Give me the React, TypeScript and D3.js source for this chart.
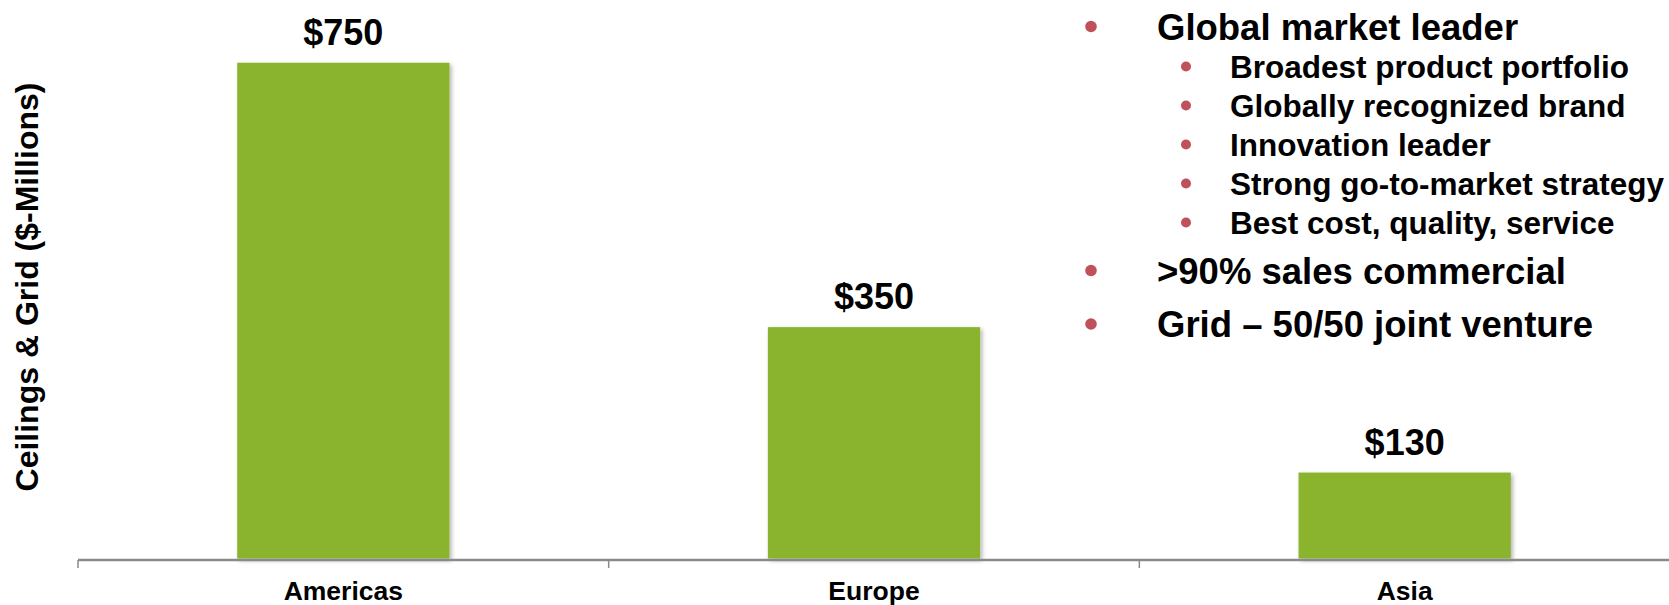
import React from "react";
import * as d3 from "d3";

const categories = ["Americas", "Europe", "Asia"];
const values = [750, 350, 130];
const valueLabels = ["$750", "$350", "$130"];
const yTitle = "Ceilings & Grid ($-Millions)";
const mainBullets = ["Global market leader", ">90% sales commercial", "Grid – 50/50 joint venture"];
const subBullets = [
  "Broadest product portfolio",
  "Globally recognized brand",
  "Innovation leader",
  "Strong go-to-market strategy",
  "Best cost, quality, service",
];

const W = 1669;
const H = 605;
const FONT = "'Liberation Sans', Arial, Helvetica, sans-serif";
const GREEN = "#8BB42D";
const RED = "#C0505A";

export default function App() {
  const x = d3
    .scaleBand<string>()
    .domain(categories)
    .range([78, 1670])
    .paddingInner(0.6)
    .paddingOuter(0.3);
  const y = d3.scaleLinear().domain([0, 800]).range([558.5, 29.7]);
  const axisY = 560;
  const step = x.step();
  const tickXs = categories.map((c) => (x(c) as number) - step * 0.3);

  const mainY = [39.5, 283.5, 337];
  const subY = subBullets.map((_, i) => 77.5 + i * 39);

  return (
    <svg
      width={W}
      height={H}
      style={{ position: "absolute", left: 0, top: 0, background: "#fff" }}
      fontFamily={FONT}
    >
      <defs>
        <filter id="shadow" x="-10%" y="-10%" width="130%" height="130%">
          <feDropShadow dx="2" dy="2" stdDeviation="2" floodColor="#000" floodOpacity="0.3" />
        </filter>
      </defs>
      <rect x={0} y={0} width={W} height={H} fill="#fff" />
      {categories.map((c, i) => (
        <rect
          key={c}
          x={x(c)}
          y={y(values[i])}
          width={x.bandwidth()}
          height={y(0) - y(values[i])}
          fill={GREEN}
          filter="url(#shadow)"
        />
      ))}
      <line x1={78} x2={W} y1={axisY} y2={axisY} stroke="#8a8a8a" strokeWidth={2.5} />
      {tickXs.map((tx, i) => (
        <line key={i} x1={tx} x2={tx} y1={axisY} y2={axisY + 8} stroke="#8a8a8a" strokeWidth={1.5} />
      ))}
      {categories.map((c, i) => (
        <text
          key={"v" + c}
          x={(x(c) as number) + x.bandwidth() / 2}
          y={y(values[i]) - 18}
          textAnchor="middle"
          fontWeight="bold"
          fontSize={36}
          fill="#000"
        >
          {valueLabels[i]}
        </text>
      ))}
      {categories.map((c) => (
        <text
          key={"c" + c}
          x={(x(c) as number) + x.bandwidth() / 2}
          y={600}
          textAnchor="middle"
          fontWeight="bold"
          fontSize={26.5}
          fill="#000"
        >
          {c}
        </text>
      ))}
      <text
        transform={`translate(38, 287) rotate(-90)`}
        textAnchor="middle"
        fontWeight="bold"
        fontSize={32}
        fill="#000"
      >
        {yTitle}
      </text>
      <g>
        {mainBullets.map((t, i) => (
          <g key={"m" + i}>
            <circle cx={1091} cy={mainY[i] - 13} r={5.8} fill={RED} />
            <text x={1157} y={mainY[i]} fontWeight="bold" fontSize={36.5} fill="#000">
              {t}
            </text>
          </g>
        ))}
        {subBullets.map((t, i) => (
          <g key={"s" + i}>
            <circle cx={1186} cy={subY[i] - 11} r={5} fill={RED} />
            <text x={1230} y={subY[i]} fontWeight="bold" fontSize={31.5} fill="#000">
              {t}
            </text>
          </g>
        ))}
      </g>
    </svg>
  );
}
